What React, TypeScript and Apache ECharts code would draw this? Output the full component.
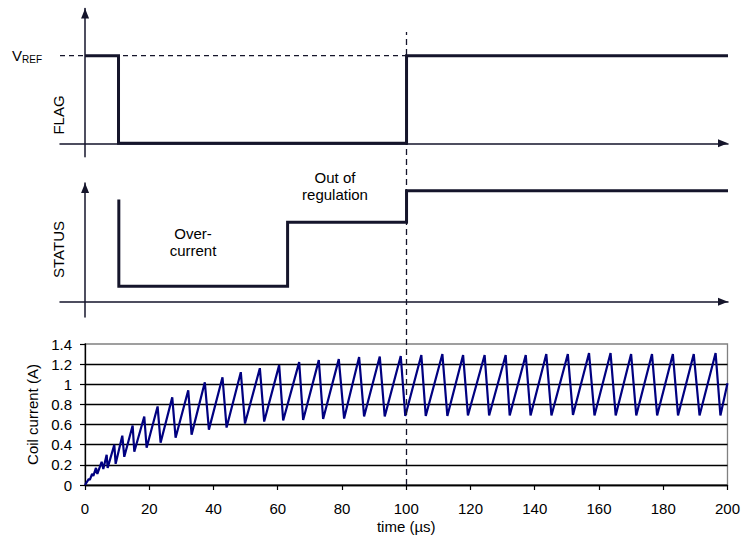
import React, { useEffect, useRef } from "react";
import * as echarts from "echarts";

// Coil current sawtooth (time in µs, current in A)
const coilTime = [
  0, 1.2, 1.5, 2.2, 2.6, 3.42, 3.84, 5.18, 5.7, 6.74, 7.05, 9.12, 9.54, 11.61, 12.23,
  14.83, 15.35, 18.45, 19.18, 22.6, 23.53, 27.16, 28.2, 32.14, 33.18, 37.3, 38.57,
  42.8, 44.07, 48.5, 49.8, 54.43, 55.78, 60.44, 61.69, 66.67, 67.91, 72.78, 74.13,
  79.0, 80.66, 85.33, 86.88, 91.76, 93.3, 98.29, 99.7, 104.7, 106.07, 111.25, 112.8,
  117.7, 119.2, 124.4, 125.8, 130.95, 132.2, 137.2, 138.7, 143.6, 145.2, 150.3, 151.9,
  156.9, 158.6, 163.6, 165.2, 170.0, 171.6, 176.5, 178.1, 183.0, 184.6, 189.5, 191.3,
  196.3, 197.8, 200,
];
const coilCurrent = [
  0, 0.06, 0.05, 0.11, 0.09, 0.17, 0.11, 0.23, 0.16, 0.3, 0.17, 0.4, 0.21, 0.49, 0.28,
  0.59, 0.33, 0.68, 0.37, 0.78, 0.42, 0.87, 0.47, 0.94, 0.5, 1.02, 0.55,
  1.07, 0.57, 1.12, 0.61, 1.16, 0.63, 1.19, 0.64, 1.22, 0.645, 1.24, 0.655,
  1.25, 0.66, 1.27, 0.68, 1.275, 0.68, 1.28, 0.685, 1.29, 0.685, 1.3, 0.685,
  1.29, 0.69, 1.29, 0.69, 1.29, 0.69, 1.29, 0.69, 1.3, 0.69, 1.3, 0.695,
  1.31, 0.69, 1.31, 0.69, 1.3, 0.69, 1.3, 0.69, 1.3, 0.69, 1.3, 0.69,
  1.31, 0.69, 1.01,
];

// FLAG signal (level 1 = VREF)
const flagTime = [0, 10.4, 10.4, 100, 100, 200];
const flagLevel = [1, 1, 0, 0, 1, 1];

// STATUS signal (relative levels)
const statusTime = [10.5, 10.5, 63, 63, 100, 100, 200];
const statusLevel = [0.92, 0.14, 0.14, 0.715, 0.715, 1, 1];

// Reference dashed lines
const vrefTime = [-7.8, 100];
const vrefLevel = [1, 1];
const markerTime = [100, 100];
const markerLevel = [0, 1];

const INK = "#15152b";
const FONT = '"Liberation Sans", Arial, Helvetica, sans-serif';

const zip = (a: number[], b: number[]) => a.map((v, i) => [v, b[i]]);

const arrowLine = {
  show: true,
  symbol: ["none", "triangle"],
  symbolSize: [8, 10],
  symbolOffset: [0, -5],
  lineStyle: { color: INK, width: 1.5 },
};

export default function App() {
  const ref = useRef<HTMLDivElement>(null);

  useEffect(() => {
    if (!ref.current) return;
    const chart = echarts.init(ref.current, undefined, { renderer: "svg" });
    const option: any = {
      animation: false,
      backgroundColor: "#ffffff",
      textStyle: { fontFamily: FONT },
      grid: [
        { left: 60, right: 15, top: 8.5, height: 148.2 },
        { left: 60, right: 15, top: 183, height: 134 },
        {
          left: 85, right: 15, top: 344, height: 141,
          show: true, borderColor: "#808080", borderWidth: 1.3,
        },
        { left: 85, right: 15, top: 32, height: 453 },
      ],
      xAxis: [
        {
          gridIndex: 0, type: "value", min: -7.8, max: 200,
          axisLine: arrowLine, axisTick: { show: false },
          axisLabel: { show: false }, splitLine: { show: false },
        },
        {
          gridIndex: 1, type: "value", min: -7.8, max: 200,
          axisLine: arrowLine, axisTick: { show: false },
          axisLabel: { show: false }, splitLine: { show: false },
        },
        {
          gridIndex: 2, type: "value", min: 0, max: 200, interval: 20,
          axisLine: { show: true, lineStyle: { color: "#000", width: 1.3 } },
          axisTick: { show: true, length: 5, lineStyle: { color: "#000", width: 1.2 } },
          axisLabel: { color: "#000", fontSize: 15, fontFamily: FONT, margin: 16 },
          splitLine: { show: false },
          name: "time (µs)", nameLocation: "middle", nameGap: 34,
          nameTextStyle: { color: "#000", fontSize: 15, fontFamily: FONT },
        },
        {
          gridIndex: 3, type: "value", min: 0, max: 200, show: false,
        },
      ],
      yAxis: [
        {
          gridIndex: 0, type: "value", min: -0.153, max: 1.539,
          axisLine: arrowLine, axisTick: { show: false },
          axisLabel: { show: false }, splitLine: { show: false },
        },
        {
          gridIndex: 1, type: "value", min: -0.138, max: 1.069,
          axisLine: arrowLine, axisTick: { show: false },
          axisLabel: { show: false }, splitLine: { show: false },
        },
        {
          gridIndex: 2, type: "value", min: 0, max: 1.4, interval: 0.2,
          axisLine: { show: true, lineStyle: { color: "#000", width: 1.3 } },
          axisTick: { show: true, length: 5, lineStyle: { color: "#000", width: 1.2 } },
          axisLabel: { color: "#000", fontSize: 15, fontFamily: FONT, margin: 13 },
          splitLine: {
            show: true, showMaxLine: false,
            lineStyle: { color: "#000", width: 1.3 },
          },
          name: "Coil current (A)", nameLocation: "middle", nameGap: 42,
          nameTextStyle: { color: "#000", fontSize: 15, fontFamily: FONT },
        },
        { gridIndex: 3, type: "value", min: 0, max: 1, show: false },
      ],
      series: [
        {
          type: "line", xAxisIndex: 0, yAxisIndex: 0, data: zip(vrefTime, vrefLevel),
          symbol: "none", clip: false,
          lineStyle: { color: INK, width: 1.3, type: [5, 4] },
        },
        {
          type: "line", xAxisIndex: 0, yAxisIndex: 0, data: zip(flagTime, flagLevel),
          symbol: "none", clip: false,
          lineStyle: { color: INK, width: 3, join: "miter" },
        },
        {
          type: "line", xAxisIndex: 1, yAxisIndex: 1, data: zip(statusTime, statusLevel),
          symbol: "none", clip: false,
          lineStyle: { color: INK, width: 3, join: "miter" },
        },
        {
          type: "line", xAxisIndex: 2, yAxisIndex: 2, data: zip(coilTime, coilCurrent),
          symbol: "none", clip: true,
          lineStyle: { color: "#000080", width: 2.2 },
        },
        {
          type: "line", xAxisIndex: 3, yAxisIndex: 3, data: zip(markerTime, markerLevel),
          symbol: "none", clip: false, z: 5,
          lineStyle: { color: INK, width: 1.3, type: [6, 4] },
        },
      ],
      graphic: [
        {
          type: "text", x: 12, y: 55,
          style: { text: "V", fontSize: 15, fontFamily: FONT, fill: "#000", verticalAlign: "middle", align: "left" },
        },
        {
          type: "text", x: 22, y: 59,
          style: { text: "REF", fontSize: 10, fontFamily: FONT, fill: "#000", verticalAlign: "middle", align: "left" },
        },
        {
          type: "text", x: 58, y: 115, rotation: Math.PI / 2,
          style: { text: "FLAG", fontSize: 15, fontFamily: FONT, fill: "#000", verticalAlign: "middle", align: "center" },
        },
        {
          type: "text", x: 58, y: 249.5, rotation: Math.PI / 2,
          style: { text: "STATUS", fontSize: 15, fontFamily: FONT, fill: "#000", verticalAlign: "middle", align: "center" },
        },
        {
          type: "text", x: 193, y: 241.5,
          style: { text: "Over-\ncurrent", fontSize: 15, lineHeight: 17, fontFamily: FONT, fill: "#000", verticalAlign: "middle", align: "center" },
        },
        {
          type: "text", x: 335, y: 185.5,
          style: { text: "Out of\nregulation", fontSize: 15, lineHeight: 17, fontFamily: FONT, fill: "#000", verticalAlign: "middle", align: "center" },
        },
      ],
    };
    chart.setOption(option);
    return () => chart.dispose();
  }, []);

  return (
    <div
      ref={ref}
      style={{ width: 743, height: 537, position: "absolute", left: 0, top: 0, background: "#fff" }}
    />
  );
}
